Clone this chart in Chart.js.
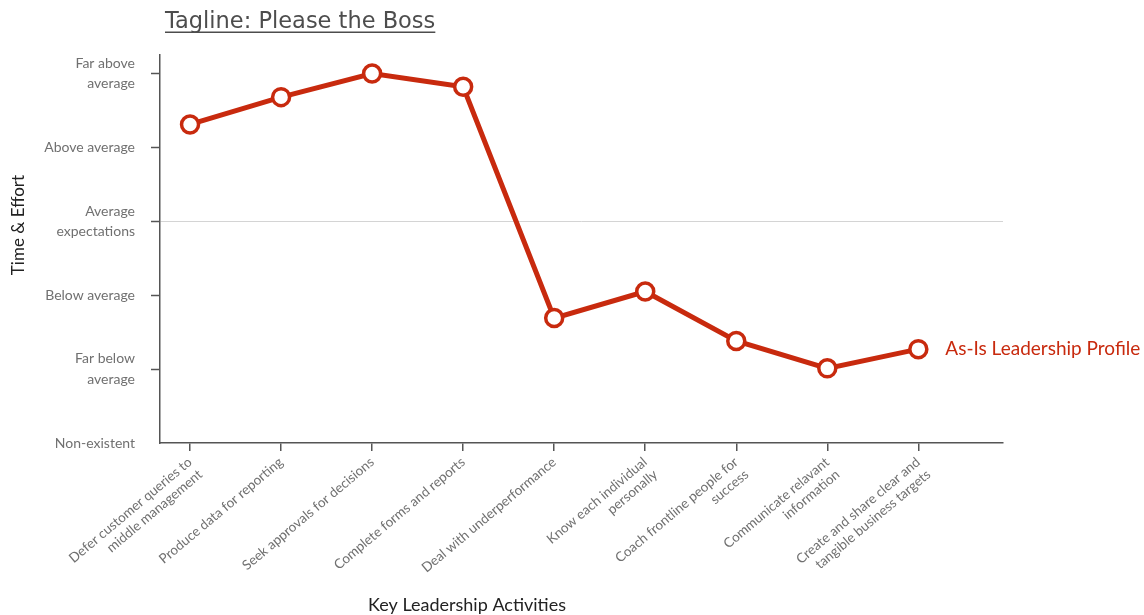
<!DOCTYPE html>
<html>
<head>
<meta charset="utf-8">
<script src="https://cdn.jsdelivr.net/npm/chart.js@4.4.1/dist/chart.umd.min.js"></script>
<style>
  html, body { margin: 0; padding: 0; background: #fff; }
  #wrap { width: 1144px; height: 615px; }
</style>
</head>
<body>
<div id="wrap"><canvas id="chart"></canvas></div>
<script>
// --- Data ---
const activities = [
    ['Defer customer queries to', 'middle management'],
    ['Produce data for reporting'],
    ['Seek approvals for decisions'],
    ['Complete forms and reports'],
    ['Deal with underperformance'],
    ['Know each individual', 'personally'],
    ['Coach frontline people for', 'success'],
    ['Communicate relavant', 'information'],
    ['Create and share clear and', 'tangible business targets']
];
const effortLevels = [
    'Non-existent',
    ['Far below', 'average'],
    'Below average',
    ['Average', 'expectations'],
    'Above average',
    ['Far above', 'average']
];
const asIsProfile = [4.31, 4.68, 5.0, 4.82, 1.69, 2.05, 1.38, 1.01, 1.27];

const seriesName = 'As-Is Leadership Profile';
const chartTitle = 'Tagline: Please the Boss';
const xTitle = 'Key Leadership Activities';
const yTitle = 'Time & Effort';

const LINE_COLOR = 'rgb(200, 42, 14)';
const AXIS_COLOR = '#555';
const LABEL_COLOR = '#707070';

// --- Text drawn around the plot ---
const textPlugin = {
    id: 'textPlugin',
    afterDraw(chart) {
        const { ctx, chartArea } = chart;

        // underlined title
        ctx.save();
        ctx.font = '22.5px "DejaVu Sans"';
        ctx.fillStyle = '#4d4d4d';
        ctx.textAlign = 'left';
        ctx.textBaseline = 'alphabetic';
        const tx = chartArea.left + 5, ty = 28;
        ctx.fillText(chartTitle, tx, ty);
        const w = ctx.measureText(chartTitle).width;
        ctx.fillRect(tx, ty + 3.5, w, 1.5);
        ctx.restore();

        // axis titles
        ctx.save();
        ctx.fillStyle = '#222';
        ctx.textAlign = 'center';
        ctx.textBaseline = 'middle';
        ctx.font = '18px Lato';
        ctx.fillText(xTitle, 467, 605);
        ctx.font = '17px Lato';
        ctx.translate(19, 225);
        ctx.rotate(-Math.PI / 2);
        ctx.fillText(yTitle, 0, 0);
        ctx.restore();

        // series name next to the last point
        const meta = chart.getDatasetMeta(0);
        const last = meta.data[meta.data.length - 1];
        ctx.save();
        ctx.font = '19px Lato';
        ctx.fillStyle = LINE_COLOR;
        ctx.textAlign = 'left';
        ctx.textBaseline = 'middle';
        ctx.fillText(seriesName, last.x + 27, last.y);
        ctx.restore();
    }
};

const ctx = document.getElementById('chart').getContext('2d');
new Chart(ctx, {
    type: 'line',
    data: {
        datasets: [{
            label: seriesName,
            data: asIsProfile.map((v, i) => ({ x: i + 1, y: v })),
            borderColor: LINE_COLOR,
            borderWidth: 5,
            tension: 0,
            pointRadius: 8.5,
            pointBorderWidth: 3.5,
            pointBackgroundColor: '#fff',
            pointBorderColor: LINE_COLOR,
            clip: false
        }]
    },
    options: {
        responsive: true,
        maintainAspectRatio: false,
        animation: false,
        layout: { padding: { top: 55, right: 141, left: 0, bottom: 0 } },
        plugins: {
            legend: { display: false },
            tooltip: { enabled: false },
            title: { display: false }
        },
        scales: {
            x: {
                type: 'linear',
                min: 0.67,
                max: 9.93,
                afterBuildTicks: (axis) => { axis.ticks = activities.map((a, i) => ({ value: i + 1 })); },
                afterFit: (axis) => { axis.height = 172; },
                border: { display: true, color: AXIS_COLOR, width: 1.5 },
                grid: { drawOnChartArea: false, tickLength: 8, color: AXIS_COLOR, tickColor: AXIS_COLOR, lineWidth: 1.5 },
                ticks: {
                    autoSkip: false,
                    minRotation: 40,
                    maxRotation: 40,
                    padding: 3,
                    color: LABEL_COLOR,
                    font: { family: 'Lato', size: 13.5 },
                    callback: (value) => activities[value - 1] || ''
                }
            },
            y: {
                min: 0,
                max: 5.25,
                afterBuildTicks: (axis) => { axis.ticks = effortLevels.map((l, i) => ({ value: i })); },
                afterFit: (axis) => { axis.width = 160; },
                border: { display: true, color: AXIS_COLOR, width: 1.5 },
                grid: {
                    tickLength: 9,
                    lineWidth: 1,
                    color: (c) => (c.tick && c.tick.value === 3) ? '#d4d4d4' : 'rgba(0,0,0,0)',
                    tickColor: (c) => (c.tick && c.tick.value === 0) ? 'rgba(0,0,0,0)' : AXIS_COLOR,
                    tickWidth: 1.5
                },
                ticks: {
                    padding: 16,
                    color: LABEL_COLOR,
                    font: { family: 'Lato', size: 14, lineHeight: 1.45 },
                    callback: (value) => effortLevels[value]
                }
            }
        }
    },
    plugins: [textPlugin]
});
</script>
</body>
</html>
